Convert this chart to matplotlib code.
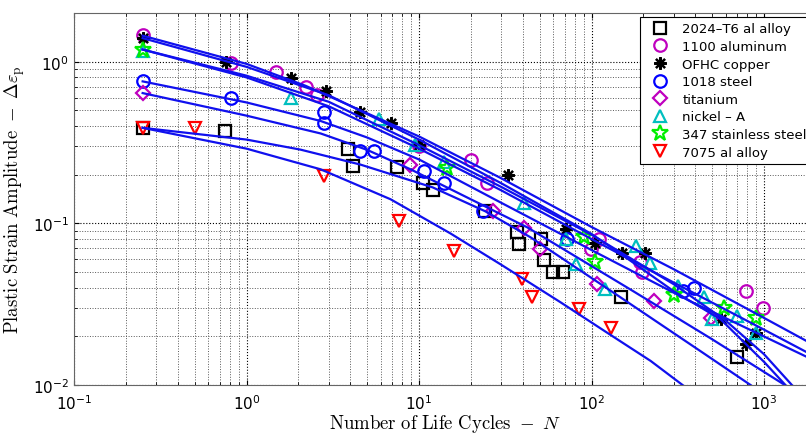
import matplotlib.pyplot as plt

n_2024 = [0.25, 0.755, 3.85, 4.17, 7.5, 10.6, 12.0, 24, 37, 37.8, 51, 52.7, 60, 68, 149, 701]
e_2024 = [0.39, 0.375, 0.29, 0.228, 0.222, 0.177, 0.16, 0.119, 0.089, 0.075, 0.080, 0.059, 0.050, 0.050, 0.035, 0.015]

n_1100 = [0.25, 0.81, 1.49, 2.2, 2.55, 10, 19.9, 24.8, 99, 110, 190, 195, 790, 990]
e_1100 = [1.47, 0.98, 0.86, 0.70, 0.62, 0.30, 0.248, 0.178, 0.069, 0.080, 0.058, 0.050, 0.038, 0.030]

n_ofhc = [0.25, 0.756, 1.8, 2.9, 4.54, 6.9, 10, 33, 70.7, 105, 151, 205, 560, 781, 893]
e_ofhc = [1.40, 1.0, 0.79, 0.66, 0.49, 0.42, 0.307, 0.20, 0.092, 0.076, 0.066, 0.066, 0.0255, 0.0179, 0.021]

n_1018 = [0.25, 0.81, 2.8, 2.8, 4.54, 5.5, 10.7, 14, 23.5, 72, 337, 390]
e_1018 = [0.756, 0.60, 0.49, 0.42, 0.28, 0.28, 0.21, 0.178, 0.12, 0.080, 0.038, 0.040]

n_ti = [0.25, 8.9, 27, 40.5, 50, 108, 230, 490]
e_ti = [0.64, 0.23, 0.12, 0.094, 0.069, 0.042, 0.033, 0.026]

n_ni = [0.25, 1.8, 5.9, 9.5, 13.9, 40.5, 70.7, 81, 120, 180, 217, 315, 446, 497, 693, 893]
e_ni = [1.17, 0.60, 0.44, 0.307, 0.24, 0.134, 0.080, 0.056, 0.039, 0.072, 0.057, 0.041, 0.035, 0.0255, 0.0267, 0.021]

n_347 = [0.25, 14.6, 90, 105, 300, 585, 893]
e_347 = [1.19, 0.22, 0.082, 0.058, 0.036, 0.030, 0.026]

n_7075 = [0.25, 0.5, 2.8, 7.7, 15.9, 39.7, 45.3, 85, 129]
e_7075 = [0.39, 0.39, 0.196, 0.103, 0.0675, 0.0456, 0.035, 0.0294, 0.0224]

# fitted life curves, sampled off the chart
fn_2024 = [0.25, 1, 2.055, 4.58, 12.0, 24.3, 44.3, 66.1, 147, 428, 835]
fe_2024 = [0.39, 0.33, 0.286, 0.231, 0.167, 0.1186, 0.082, 0.0617, 0.0349, 0.0162, 0.01]
fn_1100 = [0.25, 1, 2.2, 10, 30, 100, 300, 1000, 1800]
fe_1100 = [1.45, 0.97, 0.71, 0.345, 0.19, 0.095, 0.052, 0.026, 0.0185]
fn_ofhc = [0.25, 1, 3, 10, 30, 100, 150, 300, 560, 1000, 1330]
fe_ofhc = [1.40, 0.93, 0.62, 0.33, 0.177, 0.086, 0.064, 0.038, 0.0255, 0.0139, 0.01]
fn_1018 = [0.25, 1, 2.69, 5, 10.05, 29.6, 101, 373, 1800]
fe_1018 = [0.756, 0.56, 0.43, 0.34, 0.248, 0.135, 0.068, 0.033, 0.0148]
fn_ti = [0.25, 1, 2.69, 5, 8.93, 42.4, 168, 488, 1320]
fe_ti = [0.64, 0.464, 0.36, 0.285, 0.216, 0.0945, 0.039, 0.0195, 0.01]
fn_ni = [0.25, 1, 3, 10, 30, 100, 300, 600, 1000, 1450]
fe_ni = [1.19, 0.82, 0.565, 0.305, 0.168, 0.085, 0.042, 0.025, 0.0155, 0.01]
fn_347 = [0.25, 1, 3, 10, 30, 100, 300, 1000, 1800]
fe_347 = [1.19, 0.80, 0.53, 0.29, 0.16, 0.08, 0.043, 0.022, 0.0158]
fn_7075 = [0.25, 1, 2.69, 6.84, 15.2, 29.7, 66.1, 129, 220, 337]
fe_7075 = [0.39, 0.29, 0.216, 0.141, 0.0867, 0.0558, 0.0325, 0.0204, 0.0141, 0.01]

labels = ['2024\u2013T6 al alloy', '1100 aluminum', 'OFHC copper', '1018 steel',
          'titanium', 'nickel \u2013 A', '347 stainless steel', '7075 al alloy']
cycles = [n_2024, n_1100, n_ofhc, n_1018, n_ti, n_ni, n_347, n_7075]
strain = [e_2024, e_1100, e_ofhc, e_1018, e_ti, e_ni, e_347, e_7075]
fit_n = [fn_2024, fn_1100, fn_ofhc, fn_1018, fn_ti, fn_ni, fn_347, fn_7075]
fit_e = [fe_2024, fe_1100, fe_ofhc, fe_1018, fe_ti, fe_ni, fe_347, fe_7075]
colors = ['k', 'm', 'k', 'b', 'm', 'c', '#00ee00', 'r']
markers = ['s', 'o', (8, 2, 0), 'o', 'D', '^', '*', 'v']
sizes = [8, 9, 9, 9, 7, 9, 12, 9]

fig = plt.figure(figsize=(8.06, 4.35), dpi=100)
ax = fig.add_axes([0.0918, 0.1126, 0.9206, 0.855])

for n, e, c, m, s, lab in zip(cycles, strain, colors, markers, sizes, labels):
    ax.plot(n, e, linestyle='none', marker=m, ms=s, mfc='none', mec=c,
            mew=1.6, label=lab)

for n, e in zip(fit_n, fit_e):
    ax.plot(n, e, color='#1010ee', lw=1.6)

ax.set_xscale('log')
ax.set_yscale('log')
ax.set_xlim(0.1, 2000)
ax.set_ylim(0.01, 2)
ax.grid(True, which='major', linestyle=':', color='k', lw=0.8)
ax.grid(True, which='minor', linestyle=':', color='0.35', lw=0.7)
ax.tick_params(which='both', direction='in', top=True, right=True, labelsize=11)
ax.tick_params(axis='x', pad=6)
for sp in ax.spines.values():
    sp.set_color('0.4')

ax.set_xlabel(r'$\mathrm{Number\ of\ Life\ Cycles\ -\ }N$', fontsize=13.5,
              math_fontfamily='cm', labelpad=0)
ax.set_ylabel(r'$\mathrm{Plastic\ Strain\ Amplitude\ -\ }\Delta\varepsilon_\mathrm{p}$',
              fontsize=13.5, math_fontfamily='cm', labelpad=4)

leg = ax.legend(loc='upper right', fontsize=9.5, fancybox=False, framealpha=1,
                edgecolor='k', labelspacing=0.35, borderaxespad=0.3,
                handletextpad=0.5, handlelength=2.3)
leg.get_frame().set_linewidth(0.8)

fig.savefig('out.png', dpi=100)
